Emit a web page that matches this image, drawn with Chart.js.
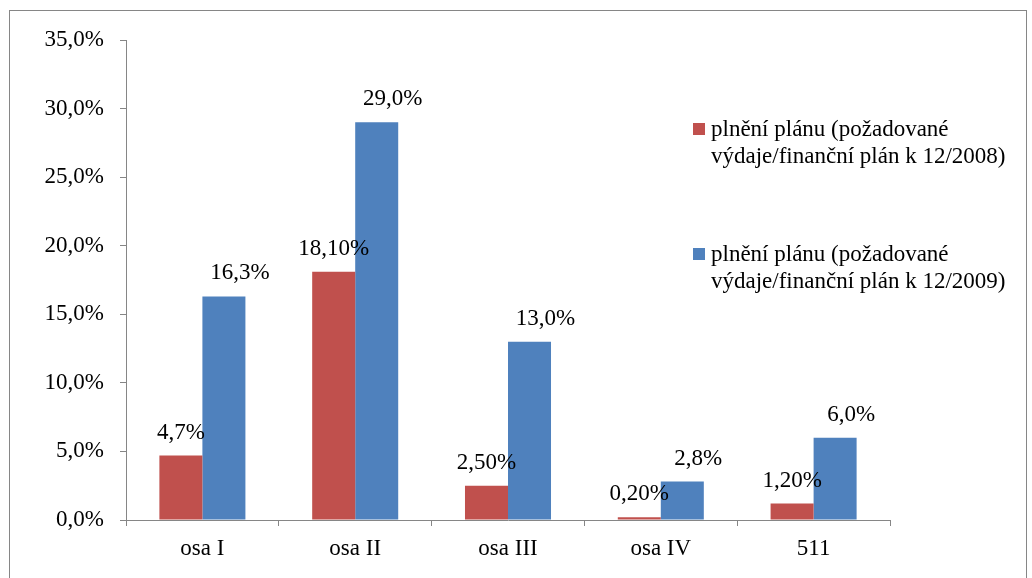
<!DOCTYPE html>
<html>
<head>
<meta charset="utf-8">
<script src="https://cdn.jsdelivr.net/npm/chart.js@4/dist/chart.umd.min.js"></script>
<style>
    body { margin: 0; background: #fff; }
    canvas { display: block; }
</style>
</head>
<body>
<canvas id="plan" width="1032" height="578"></canvas>
<script>
const categories = ['osa I', 'osa II', 'osa III', 'osa IV', '511'];
const plan2008 = [4.7, 18.1, 2.5, 0.2, 1.2];
const plan2009 = [16.3, 29.0, 13.0, 2.8, 6.0];
const labels2008 = ['4,7%', '18,10%', '2,50%', '0,20%', '1,20%'];
const labels2009 = ['16,3%', '29,0%', '13,0%', '2,8%', '6,0%'];
const legend2008 = ['plnění plánu (požadované', 'výdaje/finanční plán k 12/2008)'];
const legend2009 = ['plnění plánu (požadované', 'výdaje/finanční plán k 12/2009)'];

const FONT = '"Liberation Serif"';
const SIZE = 23;
const AXIS = '#868686';

function drawChart() {
    Chart.defaults.font.family = FONT;
    Chart.defaults.font.size = SIZE;
    Chart.defaults.color = '#000';

    const ctx = document.getElementById('plan').getContext('2d');

    new Chart(ctx, {
        type: 'bar',
        data: {
            labels: categories,
            datasets: [{
                label: legend2008,
                data: plan2008,
                valueLabels: labels2008,
                labelShift: 0,
                backgroundColor: '#C0504D',
                categoryPercentage: 0.563,
                barPercentage: 1
            }, {
                label: legend2009,
                data: plan2009,
                valueLabels: labels2009,
                labelShift: 16,
                backgroundColor: '#4F81BD',
                categoryPercentage: 0.563,
                barPercentage: 1
            }]
        },
        options: {
            responsive: false,
            animation: false,
            layout: { padding: { top: 40, right: 142, left: 0, bottom: 0 } },
            plugins: {
                legend: { display: false },
                tooltip: { enabled: false }
            },
            scales: {
                y: {
                    min: 0,
                    max: 35,
                    ticks: {
                        stepSize: 5,
                        padding: 16,
                        callback: v => v.toFixed(1).replace('.', ',') + '%'
                    },
                    grid: { drawOnChartArea: false, tickLength: 6, color: AXIS },
                    border: { color: AXIS },
                    afterFit: scale => { scale.width = 126; }
                },
                x: {
                    ticks: { padding: 9 },
                    grid: { drawOnChartArea: false, tickLength: 6, color: AXIS, offset: true },
                    border: { color: AXIS },
                    afterFit: scale => { scale.height = 58; }
                }
            }
        },
        plugins: [{
            id: 'frame',
            beforeDraw: chart => {
                const c = chart.ctx;
                c.save();
                c.strokeStyle = AXIS;
                c.lineWidth = 1;
                c.strokeRect(9.5, 10.5, 1017, 600);
                c.restore();
            }
        }, {
            id: 'valueLabels',
            afterDatasetsDraw: chart => {
                const c = chart.ctx;
                c.save();
                c.font = SIZE + 'px ' + FONT;
                c.fillStyle = '#000';
                c.textAlign = 'center';
                c.textBaseline = 'alphabetic';
                chart.data.datasets.forEach((ds, i) => {
                    chart.getDatasetMeta(i).data.forEach((bar, j) => {
                        c.fillText(ds.valueLabels[j], bar.x + ds.labelShift, bar.y - 17);
                    });
                });
                c.restore();
            }
        }, {
            id: 'sideLegend',
            afterDraw: chart => {
                const c = chart.ctx;
                const tops = [123, 248];
                c.save();
                c.font = SIZE + 'px ' + FONT;
                c.textBaseline = 'middle';
                c.textAlign = 'left';
                chart.data.datasets.forEach((ds, i) => {
                    const y = tops[i];
                    c.fillStyle = ds.backgroundColor;
                    c.fillRect(693, y, 12, 12);
                    c.fillStyle = '#000';
                    ds.label.forEach((line, k) => {
                        c.fillText(line, 711, y + 7 + k * 27);
                    });
                });
                c.restore();
            }
        }]
    });
}

document.fonts.load(SIZE + 'px ' + FONT).then(drawChart, drawChart);
</script>
</body>
</html>
